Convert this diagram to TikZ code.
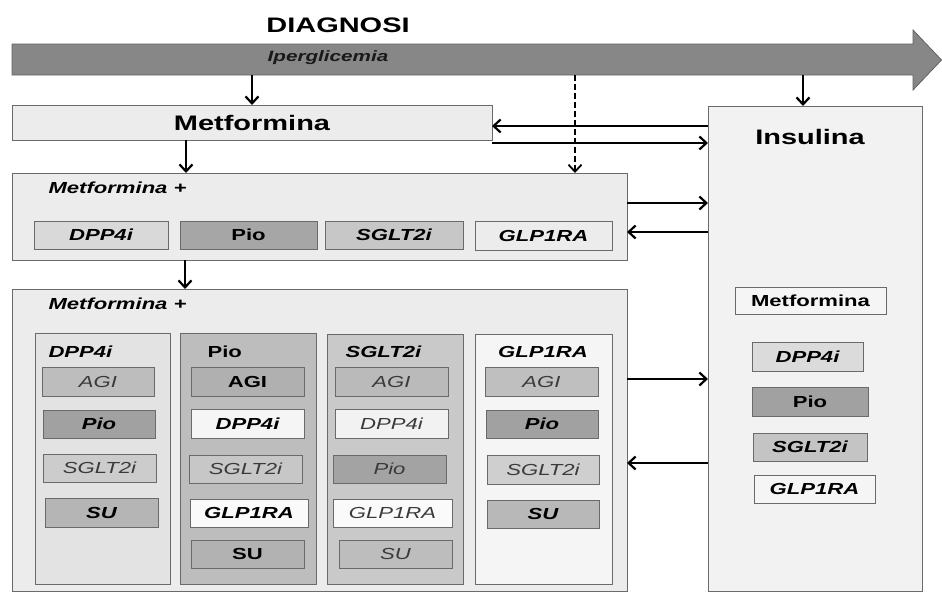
\documentclass[tikz,border=0pt]{standalone}
\usepackage{fontspec}
\setmainfont{Liberation Sans}[FakeStretch=1.38]
\usetikzlibrary{arrows.meta}
\definecolor{bd}{HTML}{6A6A6A}
\definecolor{arrowfill}{HTML}{878787}
\definecolor{arrowbd}{HTML}{646464}
\definecolor{pale}{HTML}{ECECEC}
\definecolor{insfill}{HTML}{F2F2F2}
\definecolor{tg}{HTML}{3A3A3A}
\newcommand\itemsz{\fontsize{16}{18}\selectfont}
\newcommand\titlesz{\fontsize{21}{24}\selectfont}
\begin{document}
\begin{tikzpicture}[x=1pt,y=-1pt,
  frame/.style={draw=bd,line width=1pt,inner sep=0pt,outer sep=0pt},
  corners/.style args={#1/#2/#3/#4}{minimum width={#3-#1},minimum height={#4-#2},at={({(#1+#3)/2},{(#2+#4)/2})}},
  sB/.style={font=\itemsz\bfseries,text=black},
  sBI/.style={font=\itemsz\bfseries\itshape,text=black},
  sI/.style={font=\itemsz\itshape,text=tg},
  arr/.style={line width=2.2pt,-{Straight Barb[length=7pt,width=13pt]}},
  dsh/.style={arr,line width=1.8pt,dash pattern=on 6pt off 3pt}]
\useasboundingbox (0,0) rectangle (942,592);

% big timeline arrow
\fill[arrowfill,draw=arrowbd,line width=0.8pt] (12,44) -- (913,44) -- (913,30) -- (941.5,60) -- (913,90) -- (913,75) -- (12,75) -- cycle;
\node[inner sep=0pt,outer sep=0pt,corners=12/44/913/75] (bar) {};
\node[font=\titlesz\bfseries] (diag) at (338,25) {DIAGNOSI};
\node[font=\fontsize{15}{17}\selectfont\bfseries\itshape,text=black!90] (iper) at (328,58) {Iperglicemia};

% Metformina
\node[frame,fill=pale,corners=12/105/492/140,font=\titlesz\bfseries] (met) {Metformina};

% Insulina
\node[frame,fill=insfill,corners=708/106/922/591] (ins) {};
\node[font=\titlesz\bfseries] (institle) at (810,137) {Insulina};
\node[frame,fill=white!96!black,corners=735/287/886/314,sB] (i1) {Metformina};
\node[frame,fill=white!86!black,corners=752/342/863/371,sBI] (i2) {DPP4i};
\node[frame,fill=white!63!black,corners=752/387/868/416,sB] (i3) {Pio};
\node[frame,fill=white!77!black,corners=753/433/867/461,sBI] (i4) {SGLT2i};
\node[frame,fill=white!96!black,corners=754/475/875/503,sBI] (i5) {GLP1RA};

% Metformina + (second line)
\node[frame,fill=pale,corners=12/173/627/260] (mid) {};
\node[sBI,anchor=west] (midlab) at (45,188) {Metformina +};
\node[frame,fill=white!85!black,corners=34/221/168/249,sBI] (m1) {DPP4i};
\node[frame,fill=white!65!black,corners=180/221/317/249,sB] (m2) {Pio};
\node[frame,fill=white!78!black,corners=325/221/463/249,sBI] (m3) {SGLT2i};
\node[frame,fill=pale,corners=475/221/612/250,sBI] (m4) {GLP1RA};

% Metformina + (third line)
\node[frame,fill=pale,corners=12/289/627/591] (bot) {};
\node[sBI,anchor=west] (botlab) at (45,304) {Metformina +};

% column DPP4i
\node[frame,fill=white!89!black,corners=35/333/170/584] (c1) {};
\node[sBI,anchor=west] (c1t) at (45,352) {DPP4i};
\node[frame,fill=white!74!black,corners=42/367/154/396,sI] (c1a) {AGI};
\node[frame,fill=white!63!black,corners=43/410/155/438,sBI] (c1b) {Pio};
\node[frame,fill=white!80!black,corners=43/454/156/482,sI] (c1c) {SGLT2i};
\node[frame,fill=white!71!black,corners=45/498/158/527,sBI] (c1d) {SU};

% column Pio
\node[frame,fill=white!74!black,corners=180/333/316/584] (c2) {};
\node[sB,anchor=west] (c2t) at (204,352) {Pio};
\node[frame,fill=white!69!black,corners=191/367/304/396,sB] (c2a) {AGI};
\node[frame,fill=white!96!black,corners=191/409/304/438,sBI] (c2b) {DPP4i};
\node[frame,fill=white!78!black,corners=189/455/302/483,sI] (c2c) {SGLT2i};
\node[frame,fill=white!98!black,corners=190/499/308/527,sBI] (c2d) {GLP1RA};
\node[frame,fill=white!70!black,corners=191/540/304/568,sB] (c2e) {SU};

% column SGLT2i
\node[frame,fill=white!79!black,corners=327/334/463/584] (c3) {};
\node[sBI,anchor=west] (c3t) at (342,352) {SGLT2i};
\node[frame,fill=white!73!black,corners=335/367/448/396,sI] (c3a) {AGI};
\node[frame,fill=white!95!black,corners=335/409/448/438,sI] (c3b) {DPP4i};
\node[frame,fill=white!64!black,corners=333/455/446/483,sI] (c3c) {Pio};
\node[frame,fill=white!98!black,corners=333/499/452/527,sI] (c3d) {GLP1RA};
\node[frame,fill=white!74!black,corners=339/540/452/568,sI] (c3e) {SU};

% column GLP1RA
\node[frame,fill=white!96!black,corners=475/334/612/584] (c4) {};
\node[sBI] (c4t) at (543,352) {GLP1RA};
\node[frame,fill=white!75!black,corners=485/367/598/396,sI] (c4a) {AGI};
\node[frame,fill=white!63!black,corners=486/410/598/438,sBI] (c4b) {Pio};
\node[frame,fill=white!81!black,corners=487/455/599/484,sI] (c4c) {SGLT2i};
\node[frame,fill=white!72!black,corners=487/500/599/528,sBI] (c4d) {SU};

% vertical arrows
\draw[arr] (met.north |- bar.south) -- (met.north);
\draw[dsh] (bar.south -| 575,0) -- (mid.north -| 575,0);
\draw[arr] (bar.south -| 803,0) -- (ins.north -| 803,0);
\draw[arr] (met.south -| 186,0) -- (mid.north -| 186,0);
\draw[arr] (mid.south -| 185,0) -- (bot.north -| 185,0);

% horizontal arrows to / from Insulina
\draw[arr] (ins.west |- 0,126) -- (met.east |- 0,126);
\draw[arr] (met.east |- 0,143) -- (ins.west |- 0,143);
\draw[arr] (mid.east |- 0,203) -- (ins.west |- 0,203);
\draw[arr] (ins.west |- 0,232) -- (mid.east |- 0,232);
\draw[arr] (bot.east |- 0,379) -- (ins.west |- 0,379);
\draw[arr] (ins.west |- 0,463) -- (bot.east |- 0,463);
\end{tikzpicture}
\end{document}
